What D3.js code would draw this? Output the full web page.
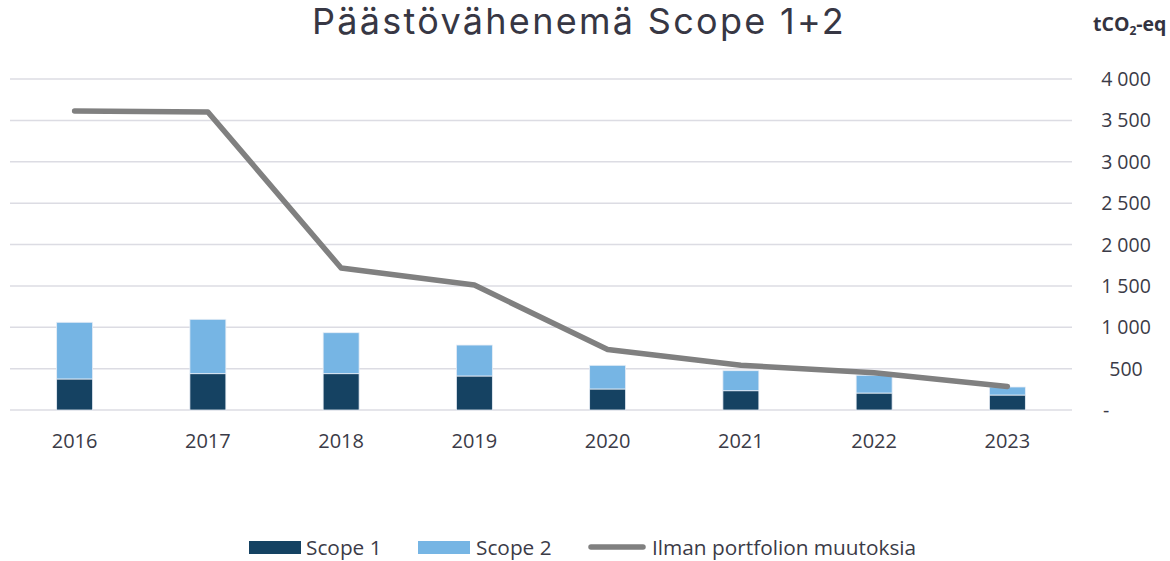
<!DOCTYPE html>
<html>
<head>
<meta charset="utf-8">
<script src="https://cdn.jsdelivr.net/npm/d3@7"></script>
<style>
  body { margin: 0; background: #fff; }
</style>
</head>
<body>
<div id="chart"></div>
<script>
var years = ["2016", "2017", "2018", "2019", "2020", "2021", "2022", "2023"];
var scope1 = [375, 439, 439, 411, 254, 233, 205, 181];
var scope2 = [685, 657, 495, 374, 286, 242, 215, 97];
var ilman = [3613, 3601, 1716, 1510, 730, 540, 450, 285];
var yTicks = [0, 500, 1000, 1500, 2000, 2500, 3000, 3500, 4000];

var width = 1170;
var height = 561;
var textColor = "#3b3b47";

var svg = d3.select("#chart")
  .append("svg")
  .attr("width", width)
  .attr("height", height)
  .style("font-family", "'Open Sans', sans-serif");

var x = d3.scaleBand()
  .domain(years)
  .range([8, 1074])
  .paddingInner(0.73)
  .paddingOuter(0.365);

var y = d3.scaleLinear()
  .domain([0, 4000])
  .range([410, 79]);

// gridlines
svg.append("g")
  .selectAll("line")
  .data(yTicks)
  .enter()
  .append("line")
  .attr("x1", 10)
  .attr("x2", 1072)
  .attr("y1", function(d) { return y(d); })
  .attr("y2", function(d) { return y(d); })
  .attr("stroke", "#dcdce3")
  .attr("stroke-width", 1.5);

// y labels on the right
var fmt = function(d) {
  return d === 0 ? "-" : d3.format(",")(d).replace(",", " ");
};
svg.append("g")
  .selectAll("text")
  .data(yTicks)
  .enter()
  .append("text")
  .attr("x", function(d) { return d === 0 ? 1103 : 1126; })
  .attr("y", function(d) { return y(d) + 7; })
  .attr("text-anchor", function(d) { return d === 0 ? "start" : "middle"; })
  .attr("font-size", 19.5)
  .attr("fill", textColor)
  .text(fmt);

// x labels
var xAxis = d3.axisBottom(x).tickSize(0).tickPadding(0);
var gx = svg.append("g")
  .attr("transform", "translate(0,448)")
  .call(xAxis);
gx.select(".domain").remove();
gx.selectAll("text")
  .attr("font-size", 20)
  .attr("font-family", "'Open Sans', sans-serif")
  .attr("fill", textColor)
  .attr("dy", 0);

// stacked bars
var stackData = years.map(function(yr, i) {
  return { year: yr, s1: scope1[i], s2: scope2[i] };
});
var series = d3.stack().keys(["s1", "s2"])(stackData);
var colors = { s1: "#154262", s2: "#76b5e4" };

svg.append("g")
  .selectAll("g")
  .data(series)
  .enter()
  .append("g")
  .attr("fill", function(d) { return colors[d.key]; })
  .selectAll("rect")
  .data(function(d) { return d; })
  .enter()
  .append("rect")
  .attr("x", function(d) { return x(d.data.year); })
  .attr("width", x.bandwidth())
  .attr("y", function(d) { return y(d[1]); })
  .attr("height", function(d) { return y(d[0]) - y(d[1]); })
  .attr("stroke", "#e8eef6")
  .attr("stroke-width", 0.8);

// line
var line = d3.line()
  .x(function(d, i) { return x(years[i]) + x.bandwidth() / 2; })
  .y(function(d) { return y(d); });

svg.append("path")
  .datum(ilman)
  .attr("d", line)
  .attr("fill", "none")
  .attr("stroke", "#808080")
  .attr("stroke-width", 5.5)
  .attr("stroke-linecap", "round")
  .attr("stroke-linejoin", "round");

// title
svg.append("text")
  .attr("x", 579)
  .attr("y", 34)
  .attr("text-anchor", "middle")
  .style("font-family", "Inter, sans-serif")
  .style("letter-spacing", "2.3px")
  .attr("font-size", 36)
  .attr("fill", "#373744")
  .text("Päästövähenemä Scope 1+2");

// unit label
var unit = svg.append("text")
  .attr("x", 1093)
  .attr("y", 31)
  .attr("font-size", 19.5)
  .attr("font-weight", "bold")
  .attr("fill", "#333340");
unit.append("tspan").text("tCO");
unit.append("tspan").attr("font-size", 12).attr("dy", 4).text("2");
unit.append("tspan").attr("dy", -4).text("-eq");

// legend
var legend = svg.append("g").attr("transform", "translate(0,548)");
legend.append("rect").attr("x", 249).attr("y", -7).attr("width", 52).attr("height", 13).attr("fill", colors.s1);
legend.append("text").attr("x", 306).attr("y", 7).attr("font-size", 20.8).attr("fill", textColor).text("Scope 1");
legend.append("rect").attr("x", 418).attr("y", -7).attr("width", 52).attr("height", 13).attr("fill", colors.s2);
legend.append("text").attr("x", 476).attr("y", 7).attr("font-size", 20.8).attr("fill", textColor).text("Scope 2");
legend.append("line").attr("x1", 591).attr("x2", 643).attr("y1", -1).attr("y2", -1)
  .attr("stroke", "#808080").attr("stroke-width", 5.5).attr("stroke-linecap", "round");
legend.append("text").attr("x", 652).attr("y", 7).attr("font-size", 20.8).attr("fill", textColor).text("Ilman portfolion muutoksia");
</script>
</body>
</html>
